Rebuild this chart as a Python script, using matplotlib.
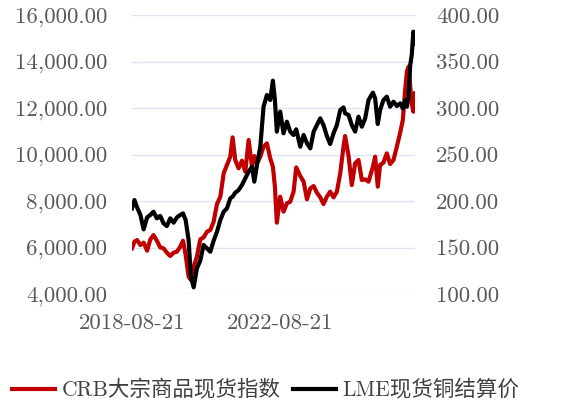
import pandas as pd
import matplotlib
matplotlib.use("Agg")
import matplotlib.pyplot as plt
import matplotlib.dates as mdates
from matplotlib.ticker import FuncFormatter

dates = ["2018-08-21", "2018-09-14", "2018-10-10", "2018-11-12", "2018-12-14",
         "2019-01-17", "2019-02-18", "2019-03-21", "2019-04-23", "2019-05-26",
         "2019-06-28", "2019-07-31", "2019-09-02", "2019-10-05", "2019-11-07",
         "2019-12-10", "2020-01-06", "2020-02-01", "2020-03-01", "2020-03-24",
         "2020-04-20", "2020-05-22", "2020-06-24", "2020-07-27", "2020-08-29",
         "2020-10-01", "2020-11-03", "2020-12-06", "2021-01-08", "2021-02-10",
         "2021-03-14", "2021-04-16", "2021-05-09", "2021-06-04", "2021-07-07",
         "2021-08-09", "2021-09-11", "2021-10-14", "2021-11-16", "2021-12-09",
         "2022-01-04", "2022-02-06", "2022-03-10", "2022-04-12", "2022-05-15",
         "2022-06-10", "2022-06-30", "2022-07-19", "2022-08-21", "2022-09-23",
         "2022-10-26", "2022-11-28", "2022-12-31", "2023-01-26", "2023-03-07",
         "2023-04-09", "2023-05-12", "2023-06-14", "2023-07-17", "2023-08-18",
         "2023-09-20", "2023-10-22", "2023-11-24", "2023-12-27", "2024-01-29",
         "2024-03-02", "2024-04-04", "2024-05-06", "2024-05-22", "2024-06-25",
         "2024-07-27", "2024-08-29", "2024-10-01", "2024-11-03", "2024-12-06",
         "2025-01-08", "2025-02-20", "2025-03-14", "2025-04-09", "2025-05-02",
         "2025-06-04", "2025-07-07", "2025-08-09", "2025-09-11", "2025-10-14",
         "2025-11-16", "2025-12-12", "2026-01-04", "2026-01-21", "2026-02-06",
         "2026-02-23", "2026-03-10", "2026-03-26", "2026-04-11"]

# left axis (red)
crb = [5964, 6251, 6322, 6107, 6208, 5864, 6351, 6537, 6294, 6007,
       5964, 5778, 5634, 5778, 5821, 6036, 6294, 5677, 4746, 4602,
       5176, 5606, 6351, 6437, 6681, 6752, 7111, 7871, 8186, 9190,
       9548, 9907, 10738, 9763, 9405, 9735, 9262, 10624, 9477, 9935,
       9620, 9907, 10337, 10480, 9835, 9477, 8617, 7068, 8186, 7541,
       7900, 7971, 8402, 9448, 9075, 8832, 8072, 8545, 8645, 8358,
       8158, 7871, 8186, 8402, 8158, 8402, 9190, 10337, 10796, 9935,
       8688, 9620, 9763, 8903, 8932, 8832, 9477, 9907, 8617, 9548,
       9649, 10050, 9591, 9763, 10337, 10939, 11484, 12774, 13563, 13778,
       12918, 12201, 11842, 12631]

# right axis (black)
lme = [192.1, 201.1, 193.2, 185.0, 169.5, 182.4, 185.0, 188.5, 181.4, 183.9,
       176.0, 173.1, 181.4, 176.7, 182.4, 185.0, 186.7, 179.6, 158.1, 118.6,
       107.2, 127.6, 135.8, 152.7, 149.1, 145.5, 157.4, 167.0, 179.6, 188.5,
       192.1, 202.9, 204.7, 209.0, 211.8, 217.2, 224.4, 231.5, 236.9, 220.8,
       238.7, 258.4, 301.4, 314.0, 308.6, 329.4, 308.6, 274.6, 296.1, 272.8,
       285.3, 274.6, 271.0, 277.1, 258.4, 271.0, 262.0, 256.6, 274.6, 281.7,
       288.9, 281.7, 269.9, 261.3, 272.8, 281.7, 297.9, 300.7, 294.3, 292.5,
       281.7, 274.6, 290.7, 279.9, 288.9, 308.6, 316.5, 310.4, 282.8, 297.9,
       308.6, 312.2, 301.4, 306.8, 302.2, 305.0, 299.6, 308.6, 301.4, 312.2,
       346.2, 357.0, 382.1, 369.5]

x_ticks = ["2018-08-21", "2022-08-21"]
labels = ["CRB大宗商品现货指数", "LME现货铜结算价"]

plt.rcParams['font.family'] = ['cmr10', 'Noto Sans CJK SC']
plt.rcParams['axes.formatter.use_mathtext'] = True

x = pd.to_datetime(dates)

fig = plt.figure(figsize=(5.66, 4.07), dpi=100)
ax = fig.add_axes([0.2332, 0.2776, 0.5, 0.6855])
ax2 = ax.twinx()

red, = ax.plot(x, crb, color='#c00000', lw=3, label=labels[0])
black, = ax2.plot(x, lme, color='black', lw=3, label=labels[1])

ax.set_ylim(4000, 16000)
ax.set_yticks(range(4000, 16001, 2000))
ax2.set_ylim(100, 400)
ax2.set_yticks(range(100, 401, 50))
ax.set_xlim(x[0], x[-1])
ax.set_xticks(pd.to_datetime(x_ticks))
ax.xaxis.set_major_formatter(mdates.DateFormatter('%Y-%m-%d'))

ax.yaxis.set_major_formatter(FuncFormatter(lambda v, p: f"{v:,.2f}"))
ax2.yaxis.set_major_formatter(FuncFormatter(lambda v, p: f"{v:,.2f}"))

ax.grid(axis='y', color='#dde3f0', lw=1)
ax.set_axisbelow(True)
for a in (ax, ax2):
    for s in a.spines.values():
        s.set_visible(False)
    a.tick_params(length=0, labelsize=16.5, colors='#595959')
ax.tick_params(axis='y', pad=18)
ax2.tick_params(axis='y', pad=15)
ax.tick_params(axis='x', pad=14)

fig.legend(handles=[red, black], labels=labels, loc='center left',
           bbox_to_anchor=(12 / 566, 1 - 390 / 407), ncol=2, frameon=False,
           fontsize=15.5, handlelength=2.0, handletextpad=0.3,
           columnspacing=0.6, borderpad=0, borderaxespad=0,
           labelcolor='#404040')

fig.savefig('out.png', dpi=100)
